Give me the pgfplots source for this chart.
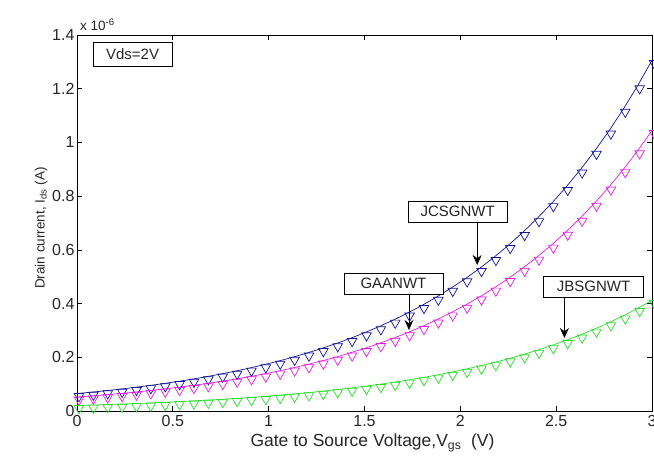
\documentclass[border=0pt]{standalone}
\usepackage{pgfplots}
\pgfplotsset{compat=1.18}
\usepackage{pgfplotstable}
\usepackage{fontspec}
\setmainfont{Liberation Sans}
\usetikzlibrary{arrows.meta}

\definecolor{cblue}{RGB}{20,20,150}
\definecolor{cmag}{RGB}{225,30,225}
\definecolor{cgreen}{RGB}{40,220,40}

% Vgs (V), Ids in units of 1e-6 A
\pgfplotstableread{
V     jcs     gaa     jbs
0.000 0.0650  0.0520  0.0205
0.075 0.0701  0.0560  0.0221
0.150 0.0755  0.0604  0.0238
0.225 0.0814  0.0651  0.0257
0.300 0.0877  0.0702  0.0277
0.375 0.0946  0.0757  0.0298
0.450 0.1019  0.0816  0.0322
0.525 0.1099  0.0879  0.0347
0.600 0.1184  0.0948  0.0374
0.675 0.1277  0.1021  0.0403
0.750 0.1376  0.1101  0.0434
0.825 0.1483  0.1187  0.0468
0.900 0.1599  0.1279  0.0504
0.975 0.1723  0.1379  0.0543
1.050 0.1857  0.1486  0.0586
1.125 0.2002  0.1602  0.0631
1.200 0.2158  0.1726  0.0681
1.275 0.2326  0.1861  0.0734
1.350 0.2507  0.2006  0.0791
1.425 0.2703  0.2162  0.0852
1.500 0.2913  0.2330  0.0919
1.575 0.3140  0.2512  0.0990
1.650 0.3385  0.2708  0.1067
1.725 0.3648  0.2919  0.1151
1.800 0.3932  0.3146  0.1240
1.875 0.4239  0.3391  0.1337
1.950 0.4569  0.3655  0.1441
2.025 0.4924  0.3940  0.1553
2.100 0.5308  0.4246  0.1674
2.175 0.5721  0.4577  0.1804
2.250 0.6167  0.4934  0.1945
2.325 0.6647  0.5318  0.2096
2.400 0.7165  0.5732  0.2260
2.475 0.7723  0.6178  0.2436
2.550 0.8325  0.6660  0.2625
2.625 0.8973  0.7178  0.2830
2.700 0.9672  0.7737  0.3050
2.775 1.0425  0.8340  0.3288
2.850 1.1237  0.8990  0.3544
2.925 1.2112  0.9690  0.3820
3.000 1.3056  1.0444  0.4118
}\ids

\begin{document}
\begin{tikzpicture}
\begin{axis}[
    name=ax,
    scale only axis,
    width=575pt, height=376pt,
    xmin=0, xmax=3, ymin=0, ymax=1.4,
    xtick={0,0.5,...,3}, ytick={0,0.2,...,1.4},
    xticklabels={0,0.5,1,1.5,2,2.5,3},
    yticklabels={0,0.2,0.4,0.6,0.8,1,1.2,1.4},
    tick align=inside,
    major tick length=5pt,
    axis line style={line width=0.8pt},
    tick style={line width=0.7pt, black},
    ticklabel style={font=\fontsize{16}{18}\selectfont, text=black!85},
    xticklabel style={yshift=-1pt},
    yticklabel style={xshift=1pt},
    /pgf/number format/assume math mode=true,
    xlabel={Gate to Source Voltage,V\textsubscript{gs}\ \ (V)},
    ylabel={Drain current, I\textsubscript{ds} (A)},
    xlabel style={font=\fontsize{17.5}{19}\selectfont, text=black!85, xshift=8pt},
    ylabel style={font=\fontsize{13.5}{15}\selectfont, text=black!85, yshift=-2pt, xshift=-5pt},
    clip=false,
    every axis plot/.append style={line width=0.7pt},
]
\addplot[cblue] table[x=V,y=jcs]{\ids};
\addplot[cmag] table[x=V,y=gaa]{\ids};
\addplot[cgreen] table[x=V,y=jbs]{\ids};

\addplot[cblue, only marks, mark=triangle, mark size=5.5pt,
  mark options={rotate=180, yshift=2.8pt, xshift=-2pt, line width=0.7pt}] table[x=V,y=jcs]{\ids};
\addplot[cmag, only marks, mark=triangle, mark size=5.5pt,
  mark options={rotate=180, yshift=2.8pt, xshift=-2pt, line width=0.7pt}] table[x=V,y=gaa]{\ids};
\addplot[cgreen, only marks, mark=triangle, mark size=5.5pt,
  mark options={rotate=180, yshift=2.8pt, xshift=-2pt, line width=0.7pt}] table[x=V,y=jbs]{\ids};

% annotations
\node[draw, line width=0.8pt, font=\fontsize{15}{17}\selectfont, text=black!85,
  minimum width=79pt, minimum height=24pt, inner sep=2pt] at (axis cs:0.29,1.329) {Vds=2V};

\node[draw, fill=white, line width=0.8pt, font=\fontsize{15}{17}\selectfont, text=black!85,
  minimum width=99pt, minimum height=21pt, inner sep=2pt] at (axis cs:1.986,0.743) {JCSGNWT};
\draw[line width=0.8pt, -{Stealth[length=10pt, width=9pt]}] (axis cs:2.088,0.704) -- (axis cs:2.088,0.5436);

\node[draw, fill=white, line width=0.8pt, font=\fontsize{15}{17}\selectfont, text=black!85,
  minimum width=99pt, minimum height=21pt, inner sep=2pt] at (axis cs:1.651,0.475) {GAANWT};
\draw[line width=0.8pt, -{Stealth[length=10pt, width=9pt]}] (axis cs:1.732,0.4356) -- (axis cs:1.732,0.3016);

\node[draw, fill=white, line width=0.8pt, font=\fontsize{15}{17}\selectfont, text=black!85,
  minimum width=100pt, minimum height=21pt, inner sep=2pt] at (axis cs:2.695,0.4635) {JBSGNWT};
\draw[line width=0.8pt, -{Stealth[length=10pt, width=9pt]}] (axis cs:2.543,0.424) -- (axis cs:2.543,0.2718);

\node[anchor=south west, font=\fontsize{13.5}{15}\selectfont, text=black!85, inner sep=1pt]
  at ([shift={(2pt,3pt)}]axis cs:0,1.4) {x 10\textsuperscript{-6}};
\end{axis}
\pgfresetboundingbox
\useasboundingbox ([shift={(-77pt,-45pt)}]ax.south west) rectangle ([shift={(577pt,411pt)}]ax.south west);
\end{tikzpicture}
\end{document}
